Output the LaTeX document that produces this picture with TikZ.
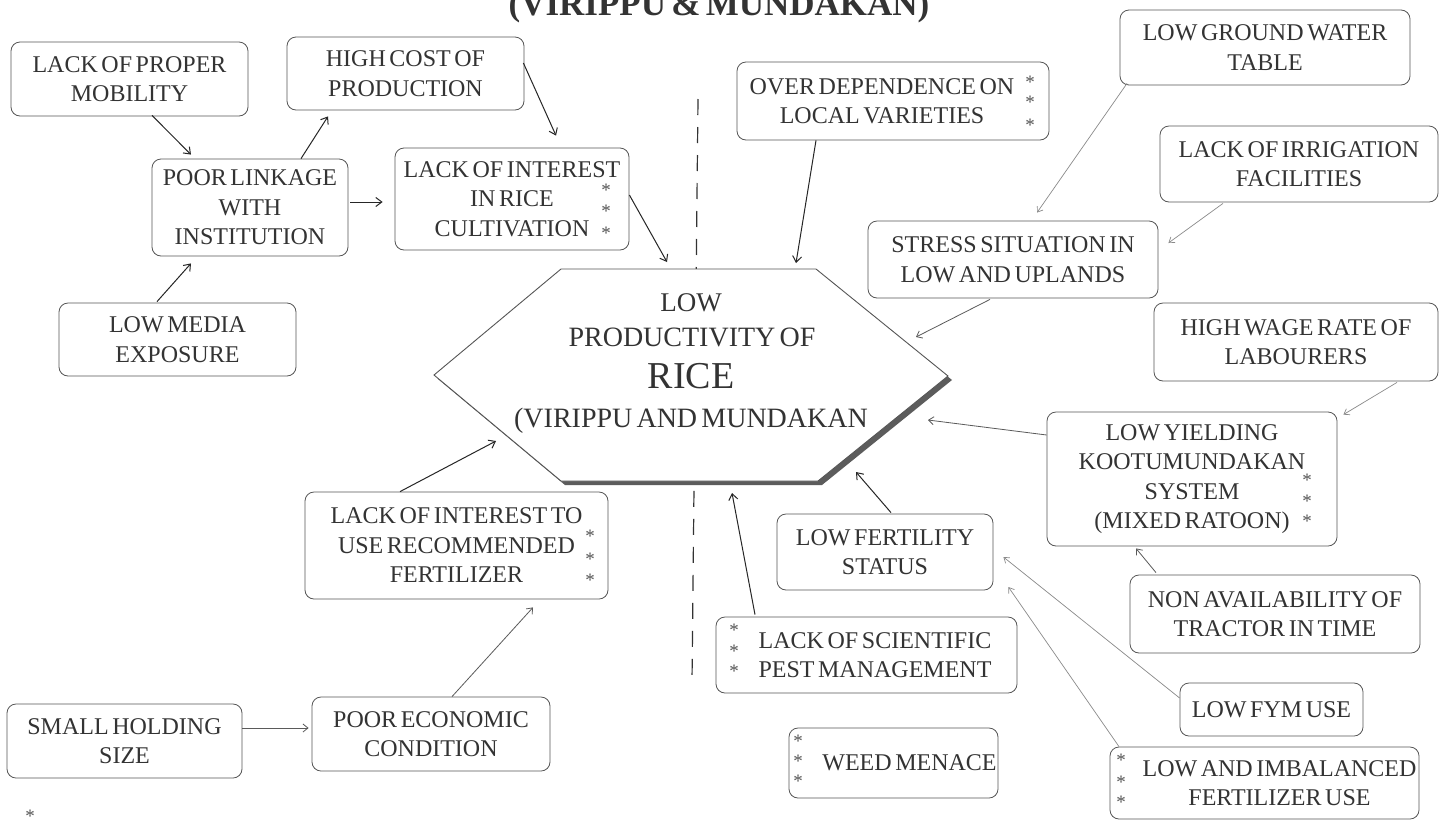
\documentclass[tikz,border=0pt]{standalone}
\usepackage{fontspec}
\setmainfont{Liberation Serif}[WordSpace=0.6]
\usetikzlibrary{arrows.meta,calc}
\definecolor{ink}{HTML}{333333}
\definecolor{frame}{HTML}{555555}
\definecolor{soft}{HTML}{8A8A8A}
\definecolor{mid}{HTML}{5A5A5A}
\definecolor{shadowgray}{HTML}{5C5C5C}
\newcommand{\pushr}[1]{\hspace*{#1pt}}

\begin{document}
\begin{tikzpicture}[x=1pt,y=-1pt,
  box/.style={draw=frame, line width=0.8pt, rounded corners=9pt, fill=white,
    inner sep=0pt, align=center, text=ink, font=\fontsize{24}{29.5}\selectfont},
  ast/.style={text=ink!85, font=\fontsize{19}{19}\selectfont, inner sep=0pt, anchor=base},
  hext/.style={text=ink, inner sep=0pt, anchor=base},
  arr/.style={draw=black!85, line width=1pt, -{Straight Barb[length=6pt,width=9pt]}},
  arrmid/.style={draw=mid, line width=0.8pt, -{Straight Barb[length=5pt,width=8pt]}},
  arrlight/.style={draw=soft, line width=0.7pt, -{Straight Barb[length=5pt,width=7pt]}},
  divider/.style={draw=black!80, line width=1.2pt, dash pattern=on 16pt off 12pt},
]
\useasboundingbox (0,0) rectangle (1441,820);
\clip (0,0) rectangle (1441,820);
\fill[white] (0,0) rectangle (1441,820);

% heading (upper part runs off the page)
\node[hext, font=\bfseries\fontsize{35}{35}\selectfont] (title) at (719,15) {(VIRIPPU \& MUNDAKAN)};

% dividing line through the centre
\coordinate (dtop) at (698,99);
\coordinate (dbot) at (692,682);
\draw[divider] (dtop) -- (dbot);

% central hexagon with its drop shadow
\fill[shadowgray] (565,273) -- (820,273) -- (952,380) -- (822,485) -- (565,485) -- (438,379) -- cycle;
\draw[draw=frame, fill=white, line width=0.9pt] (561,269) -- (816,269) -- (948,376) -- (818,481) -- (561,481) -- (434,375) -- cycle;
\node[hext, font=\fontsize{27}{27}\selectfont] (h1) at (691,311) {LOW};
\node[hext, font=\fontsize{28}{28}\selectfont] (h2) at (692,346) {PRODUCTIVITY OF};
\node[hext, font=\fontsize{38}{38}\selectfont] (h3) at (691,388) {RICE};
\node[hext, font=\fontsize{28}{28}\selectfont] (h4) at (691,427) {(VIRIPPU AND MUNDAKAN};

% points where the arrows meet the hexagon
\coordinate (hA) at (667,262);
\coordinate (hB) at (796,263);
\coordinate (hC) at (916,337);
\coordinate (hD) at (928,420);
\coordinate (hE) at (856,472);
\coordinate (hF) at (732,493);
\coordinate (hG) at (496,441);

% cause boxes
\node[box, minimum width=237pt, minimum height=74pt] (mob) at (129.5,79) {LACK OF PROPER\\MOBILITY};
\node[box, minimum width=237pt, minimum height=73pt] (cost) at (405.5,73.5) {HIGH COST OF\\PRODUCTION};
\node[box, minimum width=196pt, minimum height=97pt] (link) at (250,207.5) {POOR LINKAGE\\WITH\\INSTITUTION};
\node[box, minimum width=234pt, minimum height=102pt] (int) at (512,199) {LACK OF INTEREST\\IN RICE\\CULTIVATION};
\node[box, minimum width=237pt, minimum height=73pt] (media) at (177.5,339.5) {LOW MEDIA\\EXPOSURE};
\node[box, minimum width=312pt, minimum height=78pt] (over) at (893,101) {OVER DEPENDENCE ON\pushr{22}\\LOCAL VARIETIES\pushr{22}};
\node[box, minimum width=290pt, minimum height=75pt] (ground) at (1265,47.5) {LOW GROUND WATER\\TABLE};
\node[box, minimum width=278pt, minimum height=76pt] (irr) at (1299,164) {LACK OF IRRIGATION\\FACILITIES};
\node[box, minimum width=290pt, minimum height=77pt] (stress) at (1013,259.5) {STRESS SITUATION IN\\LOW AND UPLANDS};
\node[box, minimum width=284pt, minimum height=78pt] (wage) at (1296,342) {HIGH WAGE RATE OF\\LABOURERS};
\node[box, minimum width=290pt, minimum height=134pt] (yield) at (1192,479) {LOW YIELDING\\KOOTUMUNDAKAN\\SYSTEM\\(MIXED RATOON)};
\node[box, minimum width=290pt, minimum height=78pt] (tractor) at (1275,614) {NON AVAILABILITY OF\\TRACTOR IN TIME};
\node[box, minimum width=303pt, minimum height=107pt] (use) at (456.5,545.5) {LACK OF INTEREST TO\\USE RECOMMENDED\\FERTILIZER};
\node[box, minimum width=216pt, minimum height=76pt] (fert) at (885,552) {LOW FERTILITY\\STATUS};
\node[box, minimum width=301pt, minimum height=76pt] (pest) at (866.5,655) {\pushr{17}LACK OF SCIENTIFIC\\\pushr{17}PEST MANAGEMENT};
\node[box, minimum width=209pt, minimum height=70pt] (weed) at (893.5,763) {\pushr{32}WEED MENACE};
\node[box, minimum width=183pt, minimum height=53pt] (fym) at (1271.5,709.5) {LOW FYM USE};
\node[box, minimum width=309pt, minimum height=72pt] (imbal) at (1264.5,783) {\pushr{30}LOW AND IMBALANCED\\\pushr{30}FERTILIZER USE};
\node[box, minimum width=235pt, minimum height=74pt] (small) at (124.5,741) {SMALL HOLDING\\SIZE};
\node[box, minimum width=238pt, minimum height=74pt] (econ) at (431,734) {POOR ECONOMIC\\CONDITION};

% asterisk marks
\node[ast] (s1) at (606,196) {*};
\node[ast] (s2) at (606,217) {*};
\node[ast] (s3) at (606,239) {*};
\node[ast] (s4) at (1030,88) {*};
\node[ast] (s5) at (1030,108) {*};
\node[ast] (s6) at (1030,131) {*};
\node[ast] (s7) at (590,542) {*};
\node[ast] (s8) at (590,565) {*};
\node[ast] (s9) at (590,586) {*};
\node[ast] (s10) at (1307,486) {*};
\node[ast] (s11) at (1307,507) {*};
\node[ast] (s12) at (1307,527) {*};
\node[ast] (s13) at (734,636) {*};
\node[ast] (s14) at (734,657) {*};
\node[ast] (s15) at (734,677) {*};
\node[ast] (s16) at (798,747) {*};
\node[ast] (s17) at (798,767) {*};
\node[ast] (s18) at (798,787) {*};
\node[ast] (s19) at (1121,766) {*};
\node[ast] (s20) at (1121,788) {*};
\node[ast] (s21) at (1121,808) {*};
\node[ast] (s22) at (30,822) {*};

% connectors, left half
\draw[arr] ($(mob.south)+(22.5,-1)$) -- ($(link.north)+(-59,-4)$);
\draw[arr] ($(link.north)+(51,0)$) -- ($(cost.south)+(-77.5,6)$);
\draw[arr] ($(cost.east)+(-1,-10.5)$) -- ($(int.north)+(44,-12)$);
\draw[arr] ($(link.east)+(2,-5.5)$) -- ($(int.west)+(-12,3)$);
\draw[arr] ($(int.east)+(0,-4)$) -- (hA);
\draw[arr] ($(media.north)+(-20.5,-1)$) -- ($(link.south)+(-59,7)$);
\draw[arr] ($(over.south)+(-77,0)$) -- (hB);
\draw[arr] ($(use.north)+(-56.5,0)$) -- (hG);
\draw[arrmid] ($(econ.north)+(21,0)$) -- ($(use.south)+(76.5,8)$);
\draw[arrmid] ($(small.east)+(0,-13)$) -- ($(econ.west)+(-3,-6)$);

% connectors, right half
\draw[arrlight] ($(ground.south)+(-138,-2)$) -- ($(stress.north)+(24,-8)$);
\draw[arrlight] ($(irr.south)+(-76,1)$) -- ($(stress.east)+(10,-16.5)$);
\draw[arrmid] ($(stress.south)+(-23,1)$) -- (hC);
\draw[arrlight] ($(wage.south)+(101,1)$) -- ($(yield.north east)+(6,3)$);
\draw[arrmid] ($(yield.west)+(0,-44)$) -- (hD);
\draw[arrmid] ($(tractor.north)+(-119,-2)$) -- ($(yield.south)+(-56,2)$);
\draw[arr] ($(fert.north)+(6,-1)$) -- (hE);
\draw[arr] ($(pest.north)+(-111.5,-2)$) -- (hF);
\draw[arrlight] ($(fym.west)+(0,-11.5)$) -- ($(fert.east)+(10,5)$);
\draw[arrlight] ($(imbal.north)+(-145.5,0)$) -- ($(fert.east)+(15,35)$);
\end{tikzpicture}
\end{document}
